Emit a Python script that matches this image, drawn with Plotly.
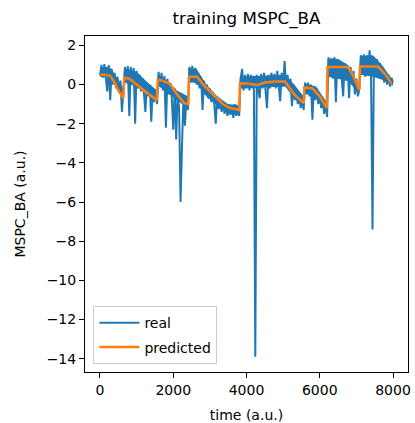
import plotly.graph_objects as go

# ---- data ----
real_step = 40  # sampling interval of the "real" series (a.u.)
real_v = [
    # 0 .. 640
    0.45, 1.0, 0.35, 1.05, 0.3, -0.35, 1.0, -0.8, 0.8, 0.0, 0.6, -0.2, 0.4, -0.4, 0.2, -1.4, -0.3,
    # 680 .. 1560
    0.9, 0.1, 0.95, -1.6, 0.9, 0.0, 0.85, -2.0, 0.7, -0.2, 0.5, -0.35, 0.3, -0.45, -1.4, 0.1,
    -0.6, 0.0, -1.9, -0.2, -0.9, -0.3, -1.0,
    # 1600 .. 2400
    0.65, -0.1, 0.6, -0.3, 0.45, -2.2, 0.3, -0.5, 0.1, -0.7, -2.3, -0.2, -2.8, -0.4, -1.2,
    -6.0, -3.1, -0.6, -2.1, -0.6, -1.3,
    # 2440 .. 3800
    0.9, 0.1, 0.95, 0.15, 0.85, 0.0, 0.6, -0.2, 0.4, -1.3, 0.2, -0.5, 0.0, -0.7, -0.2, -0.9,
    -0.4, -1.0, -2.0, -0.6, -1.25, -0.8, -1.4, -0.9, -1.5, -1.0, -1.6, -1.0, -1.55, -1.1,
    -1.7, -1.0, -1.6, -1.05, -1.6,
    # 3840 .. 5080
    0.3, 0.8, -0.3, 0.5, -0.2, 0.55, -0.3, 0.5, -0.2, 0.45, -13.9, 0.5, -0.3, -0.7, 0.55,
    -0.2, 0.6, -0.25, -1.2, 0.5, -0.2, 0.6, -0.1, 0.55, -0.2, 0.7, -0.1, -0.85, 0.6, -0.1,
    1.2, -0.1,
    # 5120 .. 5560
    0.5, -0.3, 0.3, -1.1, 0.0, -0.8, -0.2, -1.0, -0.4, -1.2, -0.6, -1.3,
    # 5600 .. 6200
    0.1, -0.5, 0.1, -0.6, 0.0, -1.8, -0.1, -0.8, -0.2, -1.0, -0.5, -1.2, -0.7, -1.5, -0.9, -1.65,
    # 6240 .. 7080
    1.4, 0.5, 1.35, 0.3, 1.4, -0.9, 1.3, 0.3, 1.2, 0.2, -0.6, 1.1, 0.2, 1.0, -0.7, 0.9, 0.1,
    0.7, -0.5, 0.3, -0.6, -0.2,
    # 7120 .. 8000
    1.5, 0.5, 1.55, 0.4, 1.5, 0.6, 1.75, 0.4, -7.4, 1.4, 0.5, 1.3, 0.4, 1.1, 0.3, 0.8, 0.1,
    0.6, 0.0, 0.5, -0.1, 0.35, 0.1,
]
real_t = [i * real_step for i in range(len(real_v))]

# dense core of the noisy "real" band (upper / lower edge)
band_t = [0, 260, 400, 640, 660, 1000, 1300, 1560, 1580, 1900, 2100, 2400, 2420, 2640,
          2900, 3200, 3500, 3800, 3820, 5060, 5300, 5560, 5580, 5900, 6190, 6210, 6500,
          6770, 7080, 7100, 7450, 7700, 8000]
band_hi = [0.9, 0.9, 0.55, -0.2, 0.85, 0.65, 0.1, -0.3, 0.55, 0.1, -0.3, -0.6, 0.85, 0.8,
           0.0, -0.6, -1.0, -1.05, 0.4, 0.5, 0.0, -0.6, 0.05, -0.1, -0.9, 1.3, 1.3,
           1.0, -0.1, 1.45, 1.5, 1.0, 0.2]
band_lo = [0.4, 0.35, 0.0, -0.6, 0.1, -0.1, -0.5, -0.9, -0.05, -0.5, -0.8, -1.2, 0.15, 0.05,
           -0.6, -1.1, -1.5, -1.55, -0.2, -0.1, -0.7, -1.2, -0.4, -0.7, -1.5, 0.4, 0.3,
           0.2, -0.5, 0.5, 0.4, 0.25, -0.05]

pred_t = [0, 150, 280, 400, 500, 600, 640, 660, 800, 1000, 1200, 1400, 1550,
          1580, 1700, 1900, 2100, 2300, 2410,
          2430, 2650, 2820, 3090, 3360, 3550, 3800,
          3820, 4000, 4300, 4500, 4800, 5050, 5300, 5560,
          5580, 5800, 6000, 6190,
          6210, 6770, 6900, 7050, 7080,
          7100, 7590, 7800, 7960]
pred_v = [0.5, 0.5, 0.45, 0.1, -0.3, -0.6, -0.7, 0.35, 0.3, 0.0, -0.3, -0.6, -0.8,
          0.25, 0.2, 0.05, -0.5, -0.95, -1.0,
          0.4, 0.4, 0.0, -0.5, -1.0, -1.2, -1.3,
          0.05, 0.05, -0.02, 0.1, 0.15, 0.15, -0.5, -0.95,
          -0.15, -0.2, -0.6, -1.2,
          0.9, 0.9, 0.5, -0.15, -0.27,
          0.92, 0.92, 0.5, 0.05]

x_ticks = [0, 2000, 4000, 6000, 8000]
y_ticks = [2, 0, -2, -4, -6, -8, -10, -12, -14]
y_tick_labels = [str(v).replace("-", "\u2212") for v in y_ticks]

FONT = "DejaVu Sans"
BLUE = "#1f77b4"
ORANGE = "#ff7f0e"

fig = go.Figure()
fig.add_trace(go.Scatter(x=band_t + band_t[::-1], y=band_hi + band_lo[::-1],
                         mode="lines", fill="toself", fillcolor=BLUE,
                         line=dict(width=0, color=BLUE), showlegend=False,
                         hoverinfo="skip", legendgroup="real"))
fig.add_trace(go.Scatter(x=real_t, y=real_v, mode="lines", name="real", legendgroup="real",
                         line=dict(color=BLUE, width=2)))
fig.add_trace(go.Scatter(x=pred_t, y=pred_v, mode="lines", name="predicted",
                         legendgroup="pred", line=dict(color=ORANGE, width=2.5)))

axis_common = dict(showline=True, mirror=True, linecolor="black", linewidth=1,
                   ticks="outside", ticklen=5, tickwidth=1, tickcolor="black",
                   showgrid=False, zeroline=False, automargin=False,
                   tickfont=dict(family=FONT, size=14, color="black"))

fig.update_layout(
    width=415, height=423,
    margin=dict(l=85, r=7, t=36, b=51),
    paper_bgcolor="white", plot_bgcolor="white",
    font=dict(family=FONT, size=14, color="black"),
    title=dict(text="training MSPC_BA", x=246.5 / 415, xanchor="center",
               y=1 - 18 / 423, yanchor="middle",
               font=dict(family=FONT, size=16.7, color="black")),
    xaxis=dict(range=[-409, 8409], tickvals=x_ticks,
               title=dict(text="time (a.u.)", standoff=13,
                          font=dict(family=FONT, size=14, color="black")),
               **axis_common),
    yaxis=dict(range=[-14.68, 2.48], tickvals=y_ticks, ticktext=y_tick_labels,
               title=dict(text="MSPC_BA (a.u.)", standoff=17,
                          font=dict(family=FONT, size=14, color="black")),
               **axis_common),
    showlegend=True,
    legend=dict(x=0.026, y=0.023, xanchor="left", yanchor="bottom",
                bgcolor="rgba(255,255,255,0.8)", bordercolor="#cccccc", borderwidth=1,
                tracegroupgap=3, itemwidth=40,
                font=dict(family=FONT, size=14, color="black")),
)

fig.write_html("out.html")
